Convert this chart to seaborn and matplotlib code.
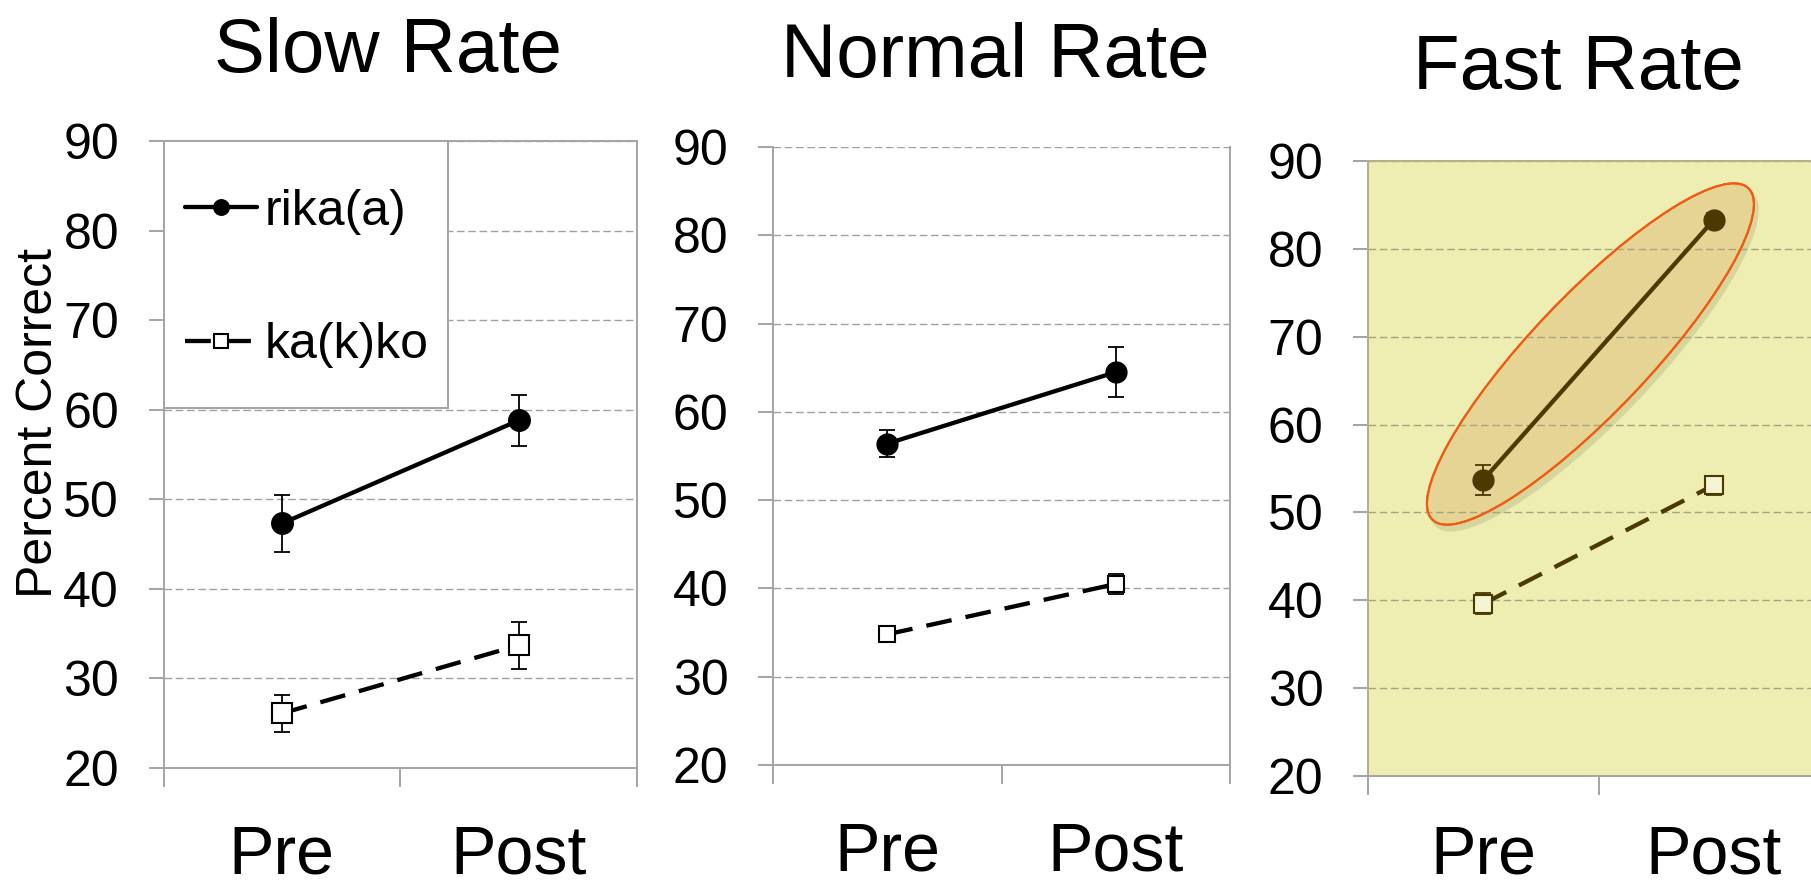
import numpy as np
import pandas as pd
import matplotlib
matplotlib.use("Agg")
import matplotlib.pyplot as plt
import seaborn as sns
from matplotlib.patches import Ellipse, Rectangle
from matplotlib.transforms import IdentityTransform

# ---------------- data ----------------
conditions = ["Slow Rate", "Normal Rate", "Fast Rate"]
phases = ["Pre", "Post"]
series_names = ["rika(a)", "ka(k)ko"]

rika_slow = [47.3, 58.8]
rika_slow_err = [3.2, 2.85]
kakko_slow = [26.1, 33.7]
kakko_slow_err = [2.1, 2.65]

rika_normal = [56.4, 64.5]
rika_normal_err = [1.55, 2.8]
kakko_normal = [34.8, 40.5]
kakko_normal_err = [0.3, 1.1]

rika_fast = [53.7, 83.3]
rika_fast_err = [1.7, 0.8]
kakko_fast = [39.6, 53.1]
kakko_fast_err = [1.2, 1.1]

y_ticks = [20, 30, 40, 50, 60, 70, 80, 90]
y_label = "Percent Correct"

# ---------------- style ----------------
sns.set_theme(style="white")
plt.rcParams["font.family"] = ["Liberation Sans", "DejaVu Sans"]
plt.rcParams["text.color"] = "black"
plt.rcParams["legend.labelcolor"] = "black"

W, H = 1811, 884
fig = plt.figure(figsize=(W / 100, H / 100), dpi=100)


def rect(l, r, t, b):
    return [l / W, (H - b) / H, (r - l) / W, (b - t) / H]


boxes = [rect(163.5, 637, 141, 768), rect(773, 1230, 147, 765), rect(1368, 1829, 161, 776)]
title_pos = [(388, 72), (995, 77), (1578, 89)]

GRAY = "#A6A6A6"

panels = [
    dict(rika=rika_slow, rika_err=rika_slow_err, kakko=kakko_slow, kakko_err=kakko_slow_err,
         col="black", sqface="white", grid="#A0A0A0", spine=GRAY, bg="white",
         ms_c=15.5, ms_s=14, top="solid", xpad=40),
    dict(rika=rika_normal, rika_err=rika_normal_err, kakko=kakko_normal, kakko_err=kakko_normal_err,
         col="black", sqface="white", grid="#A0A0A0", spine=GRAY, bg="white",
         ms_c=15, ms_s=12, top="dashed", xpad=40),
    dict(rika=rika_fast, rika_err=rika_fast_err, kakko=kakko_fast, kakko_err=kakko_fast_err,
         col="#4A3A00", sqface="#F4F4D2", grid="#A8A27E", spine="#B3B08A", bg="#EEEEB3",
         ms_c=15, ms_s=13, top="solid", xpad=34),
]

axes = []
for i, (box, p) in enumerate(zip(boxes, panels)):
    ax = fig.add_axes(box)
    axes.append(ax)
    ax.set_facecolor(p["bg"])
    x = np.arange(len(phases))

    df_r = pd.DataFrame({"phase": x, "value": p["rika"]})
    df_k = pd.DataFrame({"phase": x, "value": p["kakko"]})

    ax.errorbar(x, p["rika"], yerr=p["rika_err"], fmt="none", ecolor=p["col"],
                elinewidth=1.3, capsize=5.5, capthick=1.3, zorder=3)
    ax.errorbar(x, p["kakko"], yerr=p["kakko_err"], fmt="none", ecolor=p["col"],
                elinewidth=1.3, capsize=5.5, capthick=1.3, zorder=3)

    sns.lineplot(data=df_r, x="phase", y="value", ax=ax, color=p["col"], linewidth=3.1,
                 marker="o", markersize=p["ms_c"], markerfacecolor=p["col"],
                 markeredgecolor=p["col"], markeredgewidth=1, zorder=4)
    line_r = ax.lines[-1]
    sns.lineplot(data=df_k, x="phase", y="value", ax=ax, color=p["col"], linewidth=3.1,
                 marker="s", markersize=p["ms_s"], markerfacecolor=p["sqface"],
                 markeredgecolor=p["col"], markeredgewidth=1.5, zorder=4)
    line_k = ax.lines[-1]
    line_k.set_dashes((6.0, 3.3))

    ax.set_xlim(-0.5, 1.5)
    ax.set_ylim(y_ticks[0], y_ticks[-1])
    ax.set_yticks(y_ticks)
    ax.set_yticklabels([str(t) for t in y_ticks])
    ax.set_xticks([-0.5, 0.5, 1.5])
    ax.set_xticklabels(["", "", ""])
    ax.set_xticks(x, minor=True)
    ax.set_xticklabels(phases, minor=True)
    ax.set_xlabel("")
    ax.set_ylabel("")

    ax.tick_params(axis="y", which="major", direction="out", length=11, width=1.45,
                   color=GRAY, pad=21, labelsize=36, labelcolor="black", left=True)
    ax.tick_params(axis="x", which="major", direction="out", length=14, width=1.45,
                   color=GRAY, bottom=True)
    ax.tick_params(axis="x", which="minor", length=0, pad=p["xpad"], labelsize=49,
                   labelcolor="black", bottom=True)

    ax.yaxis.grid(True, linestyle=(0, (5.5, 2.6)), color=p["grid"], linewidth=1.0)
    ax.xaxis.grid(False)
    ax.set_axisbelow(True)

    for side in ["left", "right", "bottom", "top"]:
        ax.spines[side].set_visible(True)
        ax.spines[side].set_color(p["spine"])
        ax.spines[side].set_linewidth(1.45)
    ax.spines["bottom"].set_color(GRAY)
    if p["top"] == "dashed":
        ax.spines["top"].set_visible(False)

    tx, ty = title_pos[i]
    fig.text(tx / W, 1 - ty / H, conditions[i], ha="center", va="baseline", fontsize=55,
             color="black")

    if i == 0:
        frame = Rectangle((0, 0.574), 0.601, 0.426, transform=ax.transAxes,
                          facecolor="white", edgecolor=GRAY, linewidth=1.45, zorder=1.5)
        ax.add_patch(frame)
        leg = ax.legend([line_r, line_k], series_names, loc="center left",
                        bbox_to_anchor=(0.045, 0.781), frameon=False, fontsize=36,
                        handlelength=1.45, handletextpad=0.15, labelspacing=1.75,
                        borderpad=0, borderaxespad=0, markerscale=0.72)
        leg.set_zorder(6)
    else:
        if ax.get_legend() is not None:
            ax.get_legend().remove()

    if i == 2:
        # highlight ellipse around the rika(a) line
        fig.canvas.draw()
        cx, cy = ax.transData.transform((0.465, 68.03))
        shadow = Ellipse((cx + 4, cy - 6), 460, 119, angle=46.4, transform=IdentityTransform(),
                         facecolor="#9A9660", edgecolor="none", alpha=0.28, zorder=0.2)
        ax.add_patch(shadow)
        ell = Ellipse((cx, cy), 458, 117, angle=46.4, transform=IdentityTransform(),
                      facecolor="#E6D494", edgecolor="#F05A14", linewidth=1.5, zorder=0.3)
        ax.add_patch(ell)
        ell_edge = Ellipse((cx, cy), 458, 117, angle=46.4, transform=IdentityTransform(),
                           facecolor="none", edgecolor="#F05A14", linewidth=1.5, zorder=2.5)
        ax.add_patch(ell_edge)

fig.text(16 / W, 1 - 422.5 / H, y_label, rotation=90, ha="left", va="center", fontsize=36,
         color="black")

fig.savefig("out.png", dpi=100)
